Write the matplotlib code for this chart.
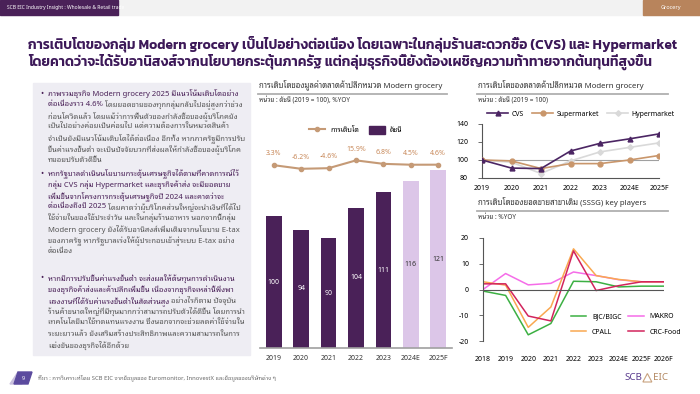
import matplotlib
matplotlib.use('Agg')
import matplotlib.pyplot as plt
from matplotlib.lines import Line2D
from matplotlib.patches import Patch, Rectangle, Polygon
import numpy as np

body_font = ['Noto Sans Thai Looped', 'Noto Sans', 'DejaVu Sans']
title_font = ['Kanit', 'Noto Sans Thai', 'Noto Sans', 'DejaVu Sans']
plt.rcParams['font.family'] = body_font

# data
years_mid = ['2019', '2020', '2021', '2022', '2023', '2024E', '2025F']
index_mid = [100, 94, 90, 104, 111, 116, 121]
growth_mid = [3.3, -6.2, -4.6, 15.9, 6.8, 4.5, 4.6]

years_top = ['2019', '2020', '2021', '2022', '2023', '2024E', '2025F']
cvs = [100, 91, 90.5, 110, 118.5, 123.5, 129]
supermarket = [100, 99, 90.5, 96, 96, 100, 105]
hypermarket = [100, 97.5, 85, 99, 109, 114, 119]

years_sssg = ['2018', '2019', '2020', '2021', '2022', '2023', '2024E', '2025F', '2026F']
bjc = [-0.6, -2.3, -17.6, -13.2, 3.2, 3.0, 1.0, 1.3, 1.3]
makro = [0.0, 6.2, 1.8, 2.4, 6.8, 5.4, 3.8, 3.0, 3.0]
cpall = [3.0, 1.7, -14.7, -6.8, 15.8, 5.4, 3.9, 3.0, 3.0]
crc = [2.2, 2.2, -10.3, -12.2, 15.0, -0.4, 1.5, 3.0, 3.0]

title_lines = ['การเติบโตของกลุ่ม Modern grocery เป็นไปอย่างต่อเนื่อง โดยเฉพาะในกลุ่มร้านสะดวกซื้อ (CVS) และ Hypermarket',
               'โดยคาดว่าจะได้รับอานิสงส์จากนโยบายกระตุ้นภาครัฐ แต่กลุ่มธุรกิจนี้ยังต้องเผชิญความท้าทายจากต้นทุนที่สูงขึ้น']

bullets = [
    [[('ภาพรวมธุรกิจ Modern grocery 2025 มีแนวโน้มเติบโตอย่าง', True)],
     [('ต่อเนื่องราว 4.6%', True), (' โดยยอดขายของทุกกลุ่มกลับไปอยู่สูงกว่าช่วง', False)],
     [('ก่อนโควิดแล้ว โดยแม้ว่าการฟื้นตัวของกำลังซื้อของผู้บริโภคยัง', False)],
     [('เป็นไปอย่างค่อยเป็นค่อยไป แต่ความต้องการในหมวดสินค้า', False)],
     [('จำเป็นยังมีแนวโน้มเติบโตได้ต่อเนื่อง อีกทั้ง หากภาครัฐมีการปรับ', False)],
     [('ขึ้นค่าแรงขั้นต่ำ จะเป็นปัจจัยบวกที่ส่งผลให้กำลังซื้อของผู้บริโภค', False)],
     [('ทยอยปรับตัวดีขึ้น', False)]],
    [[('หากรัฐบาลดำเนินนโยบายกระตุ้นเศรษฐกิจได้ตามที่คาดการณ์ไว้', True)],
     [('กลุ่ม CVS กลุ่ม Hypermarket และธุรกิจค้าส่ง จะมียอดขาย', True)],
     [('เพิ่มขึ้นจากโครงการกระตุ้นเศรษฐกิจปี 2024 และคาดว่าจะ', True)],
     [('ต่อเนื่องถึงปี 2025', True), (' โดยคาดว่าผู้บริโภคส่วนใหญ่จะนำเงินที่ได้ไป', False)],
     [('ใช้จ่ายในของใช้ประจำวัน และในกลุ่มร้านอาหาร นอกจากนี้กลุ่ม', False)],
     [('Modern grocery ยังได้รับอานิสงส์เพิ่มเติมจากนโยบาย E-tax', False)],
     [('ของภาครัฐ หากรัฐบาลเร่งให้ผู้ประกอบเข้าสู่ระบบ E-tax อย่าง', False)],
     [('ต่อเนื่อง', False)]],
    [[('หากมีการปรับขึ้นค่าแรงขั้นต่ำ จะส่งผลให้ต้นทุนการดำเนินงาน', True)],
     [('ของธุรกิจค้าส่งและค้าปลีกเพิ่มขึ้น เนื่องจากธุรกิจเหล่านี้พึ่งพา', True)],
     [('แรงงานที่ได้รับค่าแรงขั้นต่ำในสัดส่วนสูง', True), (' อย่างไรก็ตาม ปัจจุบัน', False)],
     [('ร้านค้าขนาดใหญ่ที่มีทุนมากกว่าสามารถปรับตัวได้ดีขึ้น โดยการนำ', False)],
     [('เทคโนโลยีมาใช้ทดแทนแรงงาน ซึ่งนอกจากจะช่วยลดค่าใช้จ่ายใน', False)],
     [('ระยะยาวแล้ว ยังเสริมสร้างประสิทธิภาพและความสามารถในการ', False)],
     [('แข่งขันของธุรกิจได้อีกด้วย', False)]],
]
bullet_top = [92, 172, 277]

W, H = 700, 394
purple = '#4a2158'
lilac = '#dcc6e8'
tan = '#c59a76'


def fx(x):
    return x / W


def fy(y):
    return 1 - y / H


def px_axes(x0, y0, x1, y1):
    return fig.add_axes([fx(x0), fy(y1), (x1 - x0) / W, (y1 - y0) / H])


def fit_size(t, width):
    # font size that makes text t span `width` pixels
    return t.get_fontsize() * width / t.get_window_extent(r).width


fig = plt.figure(figsize=(7, 3.94), dpi=100)
r = fig.canvas.get_renderer()

# header strip
fig.patches.append(Rectangle((0, fy(15)), 1, 15 / H, transform=fig.transFigure, color='#f2f2f2', zorder=0))
fig.patches.append(Rectangle((0, fy(15)), fx(118), 15 / H, transform=fig.transFigure, color=purple, zorder=1))
fig.patches.append(Rectangle((fx(643), fy(15)), fx(57), 15 / H, transform=fig.transFigure, color='#b8845c', zorder=1))
fig.text(fx(7), fy(7.5), 'SCB EIC Industry Insight : Wholesale & Retail trade', color='white', fontsize=3.6, va='center')
fig.text(fx(671), fy(7.5), 'Grocery', color='white', fontsize=4, va='center', ha='center')

# title, sized so that line 1 runs from x=28 to x=677
tl = []
for i, line in enumerate(title_lines):
    tl.append(fig.text(fx(28), fy(44 + i * 18), line, color='#3c1858', fontsize=11, fontweight='semibold',
                       va='center', family=title_font))
ts = fit_size(tl[0], 649)
for t in tl:
    t.set_fontsize(ts)

# left panel
fig.patches.append(Rectangle((fx(33), fy(355)), (250 - 33) / W, (355 - 83) / H,
                             transform=fig.transFigure, color='#eeedf3', zorder=0))
probe = fig.text(0, 0, bullets[0][0][0][0], fontsize=5, fontweight='bold')
body_size = fit_size(probe, 191)
probe.remove()
for top, lines in zip(bullet_top, bullets):
    fig.text(fx(40), fy(top), '•', color=purple, fontsize=6, va='center_baseline')
    for j, segs in enumerate(lines):
        x = 48
        for seg, bold in segs:
            t = fig.text(fx(x), fy(top + j * 11.2), seg, fontsize=body_size, va='center_baseline',
                         color=purple if bold else '#575757', fontweight='bold' if bold else 'normal')
            x += t.get_window_extent(r).width

# footer
fig.patches.append(Polygon([(fx(10), fy(384)), (fx(18), fy(372)), (fx(22), fy(384))], closed=True,
                           transform=fig.transFigure, color='#c9c0dd', zorder=1))
fig.patches.append(Polygon([(fx(14), fy(384)), (fx(18), fy(372)), (fx(32), fy(372)), (fx(28), fy(384))], closed=True,
                           transform=fig.transFigure, color='#5b4a9e', zorder=2))
fig.text(fx(23), fy(378), '9', color='white', fontsize=4, ha='center', va='center')
fig.text(fx(38), fy(378), 'ที่มา : การวิเคราะห์โดย SCB EIC จากข้อมูลของ Euromonitor, InnovestX และข้อมูลของบริษัทต่าง ๆ',
         color='#666666', fontsize=4.2, va='center')
scb = fig.text(fx(624), fy(378), 'SCB', color='#5b3d8f', fontsize=7, fontweight='bold', va='center',
               family=['Noto Sans'])
x_logo = 624 + scb.get_window_extent(r).width + 1
fig.patches.append(Polygon([(fx(x_logo), fy(382)), (fx(x_logo + 4.5), fy(373.5)), (fx(x_logo + 9), fy(382))],
                           closed=True, fill=False, transform=fig.transFigure, ec='#c9a27e', lw=0.8))
fig.text(fx(x_logo + 10), fy(378), 'EIC', color='#b48a64', fontsize=7, fontweight='bold', va='center',
         family=['Noto Sans'])

# chart headers
heads = []
for x0, x1, y, title, unit in [
        (258, 447, 85, 'การเติบโตของมูลค่าตลาดค้าปลีกหมวด Modern grocery', 'หน่วย : ดัชนี (2019 = 100), %YOY'),
        (477, 668, 85, 'การเติบโตของตลาดค้าปลีกหมวด Modern grocery', 'หน่วย : ดัชนี (2019 = 100)'),
        (477, 668, 202, 'การเติบโตของยอดขายสาขาเดิม (SSSG) key players', 'หน่วย : %YOY')]:
    heads.append(fig.text(fx(x0 + 1), fy(y), title, color='#333333', fontsize=6, va='center'))
    fig.add_artist(Line2D([fx(x0), fx(x1)], [fy(y + 9), fy(y + 9)], color='#b0b0b0', lw=1.3))
    fig.text(fx(x0 + 1), fy(y + 15), unit, color='#333333', fontsize=4.6, va='center')
hs = fit_size(heads[0], 186)
for t in heads:
    t.set_fontsize(hs)

# middle chart: index bars + growth line
ax = px_axes(260, 120, 452, 348)
xm = np.arange(len(years_mid))
bar_colors = [purple] * 5 + [lilac] * 2
ax.bar(xm, index_mid, width=0.57, color=bar_colors, bottom=0)
ax.set_ylim(40, 144)
ax.set_xlim(-0.5, 6.5)
for i, v in enumerate(index_mid):
    ax.text(xm[i], (40 + v) / 2, str(v), ha='center', va='center', fontsize=5,
            fontweight='bold', color='white' if i < 5 else '#333333')
for s in ['top', 'right', 'left']:
    ax.spines[s].set_visible(False)
ax.spines['bottom'].set_color('#a0a0a0')
ax.spines['bottom'].set_linewidth(1.2)
ax.set_yticks([])
ax.set_xticks(xm)
ax.set_xticklabels(years_mid, fontsize=5, fontweight='bold', color='#333333')
ax.tick_params(axis='x', length=0, pad=5)
ax2 = ax.twinx()
ax2.plot(xm, growth_mid, color=tan, lw=1.5, marker='o', ms=3)
ax2.set_ylim(-477, 122)
ax2.axis('off')
for i, g in enumerate(growth_mid):
    ax2.annotate(f'{g}%', (xm[i], g), xytext=(0, 7), textcoords='offset points', ha='center',
                 fontsize=5, color='#c8895a')
ax.legend(handles=[Line2D([], [], color=tan, lw=1.5, marker='o', ms=3),
                   Patch(color=purple)], labels=['การเติบโต', 'ดัชนี'],
          loc='center', bbox_to_anchor=(0.5, 0.956), ncol=2, frameon=False, fontsize=5,
          handlelength=2.2, handleheight=1.3, columnspacing=1.5)

# top right: market index by format
ax3 = px_axes(482, 124, 659, 178)
xt = np.arange(len(years_top))
ax3.plot(xt, cvs, color='#4b2563', lw=1.2, marker='^', ms=3.5, label='CVS', zorder=4)
ax3.plot(xt, supermarket, color='#c9966b', lw=1.2, marker='o', ms=3.5, label='Supermarket', zorder=3)
ax3.plot(xt, hypermarket, color='#d9d9d9', lw=1.2, marker='D', ms=2.8, label='Hypermarket', zorder=2)
ax3.axhline(100, color='#a0a0a0', lw=0.8, zorder=1)
ax3.set_ylim(80, 140)
ax3.set_xlim(0, 6)
ax3.set_yticks([80, 100, 120, 140])
ax3.set_xticks(xt)
ax3.set_xticklabels(years_top)
for s in ['top', 'right']:
    ax3.spines[s].set_visible(False)
for s in ['left', 'bottom']:
    ax3.spines[s].set_color('#555555')
    ax3.spines[s].set_linewidth(0.8)
ax3.tick_params(axis='y', labelsize=5, length=3, width=0.6, color='#555555', pad=7)
ax3.tick_params(axis='x', labelsize=5, length=0, pad=5)
for lab in ax3.get_xticklabels() + ax3.get_yticklabels():
    lab.set_fontweight('bold')
ax3.legend(loc='center', bbox_to_anchor=(0.56, 1.18), ncol=3, frameon=False, fontsize=5,
           handlelength=3, columnspacing=1.2, handletextpad=0.5)

# bottom right: SSSG
ax4 = px_axes(483, 238, 664, 341)
xs = np.arange(len(years_sssg))
l_bjc, = ax4.plot(xs, bjc, color='#3cb043', lw=1.1)
l_makro, = ax4.plot(xs, makro, color='#f56ce8', lw=1.1)
l_cpall, = ax4.plot(xs, cpall, color='#f9a851', lw=1.1)
l_crc, = ax4.plot(xs, crc, color='#d2245c', lw=1.1)
ax4.axhline(0, color='#555555', lw=0.8)
ax4.set_ylim(-20, 20)
ax4.set_xlim(0, 8)
ax4.set_yticks([-20, -10, 0, 10, 20])
ax4.set_xticks(xs)
ax4.set_xticklabels(years_sssg)
for s in ['top', 'right', 'bottom']:
    ax4.spines[s].set_visible(False)
ax4.spines['left'].set_color('#555555')
ax4.spines['left'].set_linewidth(0.8)
ax4.tick_params(axis='y', labelsize=5, length=3, width=0.6, color='#555555', pad=7)
ax4.tick_params(axis='x', labelsize=5, length=0, pad=11)
for lab in ax4.get_xticklabels() + ax4.get_yticklabels():
    lab.set_fontweight('bold')
ax4.legend([l_bjc, l_cpall, l_makro, l_crc], ['BJC/BIGC', 'CPALL', 'MAKRO', 'CRC-Food'],
           loc='center', bbox_to_anchor=(0.79, 0.16), ncol=2, frameon=False, fontsize=5,
           handlelength=2.2, columnspacing=1.0, labelspacing=1.2)

fig.savefig('out.png', dpi=100)
